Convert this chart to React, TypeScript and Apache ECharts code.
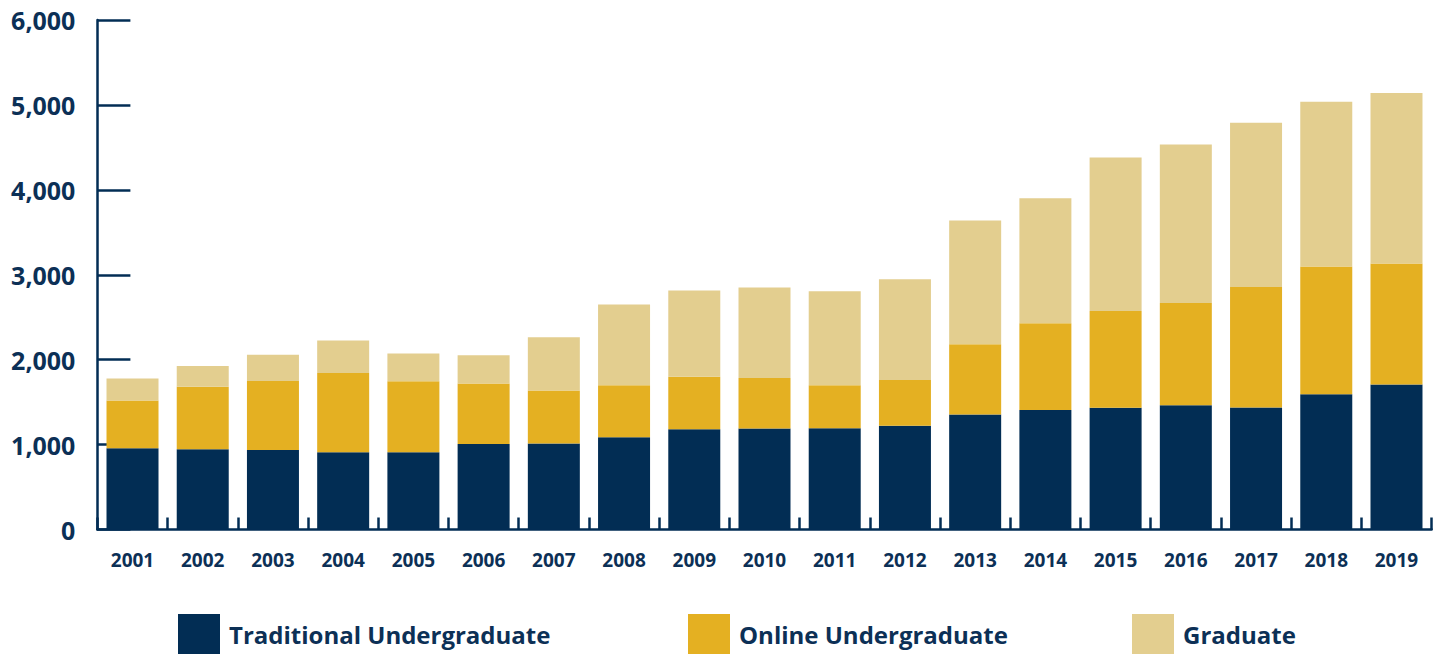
import React, { useEffect, useRef } from "react";
import * as echarts from "echarts";

const years = ["2001","2002","2003","2004","2005","2006","2007","2008","2009","2010","2011","2012","2013","2014","2015","2016","2017","2018","2019"];
const traditional = [956, 945, 937, 909, 909, 1007, 1012, 1085, 1180, 1188, 1192, 1221, 1355, 1406, 1433, 1462, 1436, 1592, 1709];
const online = [562, 737, 811, 933, 836, 711, 626, 613, 618, 596, 506, 541, 827, 1023, 1141, 1206, 1420, 1506, 1423];
const graduate = [261, 243, 311, 385, 329, 333, 627, 952, 1017, 1065, 1108, 1185, 1456, 1471, 1808, 1865, 1935, 1940, 2007];
const seriesNames = ["Traditional Undergraduate", "Online Undergraduate", "Graduate"];

const NAVY = "#022d54";
const GOLD = "#e4b022";
const TAN = "#e3ce8f";
const TEXT = "#0c3056";
const FONT = "'Open Sans', 'Noto Sans', sans-serif";

export default function App() {
  const ref = useRef<HTMLDivElement>(null);
  useEffect(() => {
    if (!ref.current) return;
    const chart = echarts.init(ref.current, undefined, { renderer: "svg" });
    const legendBase = (name: string, left: number) => ({
      data: [name],
      left,
      top: 614,
      padding: 0,
      orient: "horizontal",
      icon: "rect",
      itemWidth: 42,
      itemHeight: 40,
      selectedMode: false,
      textStyle: {
        color: TEXT,
        fontFamily: FONT,
        fontWeight: "bold",
        fontSize: 24,
        padding: [0, 0, 4, 4],
      },
    });
    chart.setOption({
      animation: false,
      backgroundColor: "#ffffff",
      grid: { left: 97.4, right: 11.4, top: 20, bottom: 125.5, containLabel: false },
      legend: [
        legendBase(seriesNames[0], 178),
        legendBase(seriesNames[1], 688),
        legendBase(seriesNames[2], 1132),
      ],
      xAxis: {
        type: "category",
        data: years,
        axisLine: { show: true, lineStyle: { color: NAVY, width: 2.5 } },
        axisTick: { show: true, inside: true, length: 12, lineStyle: { color: NAVY, width: 2.5 } },
        axisLabel: {
          color: TEXT,
          fontFamily: FONT,
          fontWeight: "bold",
          fontSize: 19,
          margin: 21,
        },
      },
      yAxis: {
        type: "value",
        min: 0,
        max: 6000,
        interval: 1000,
        splitLine: { show: false },
        axisLine: { show: true, lineStyle: { color: NAVY, width: 2.5 } },
        axisTick: { show: true, inside: true, length: 33, lineStyle: { color: NAVY, width: 2.5 } },
        axisLabel: {
          color: TEXT,
          fontFamily: FONT,
          fontWeight: "bold",
          fontSize: 25,
          margin: 22,
          formatter: (v: number) => v.toLocaleString("en-US"),
        },
      },
      series: [
        { name: seriesNames[0], type: "bar", stack: "total", data: traditional, barWidth: 52, itemStyle: { color: NAVY } },
        { name: seriesNames[1], type: "bar", stack: "total", data: online, barWidth: 52, itemStyle: { color: GOLD } },
        { name: seriesNames[2], type: "bar", stack: "total", data: graduate, barWidth: 52, itemStyle: { color: TAN } },
      ],
    });
    return () => chart.dispose();
  }, []);
  return (
    <div
      ref={ref}
      style={{ position: "fixed", left: 0, top: 0, width: 1443, height: 655 }}
    />
  );
}
